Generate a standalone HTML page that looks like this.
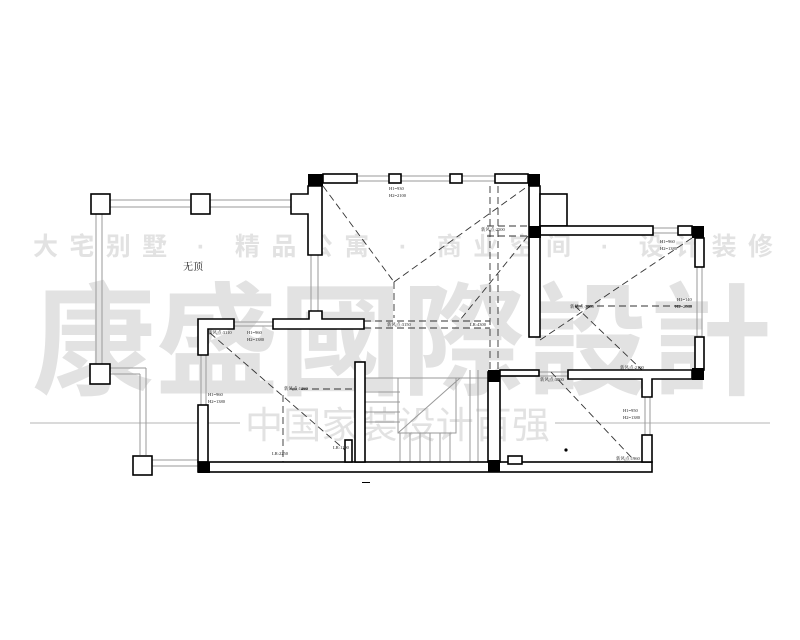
<!DOCTYPE html>
<html><head><meta charset="utf-8"><style>
html,body{margin:0;padding:0;background:#fff;}
svg{display:block}
</style></head><body>
<svg width="800" height="640" viewBox="0 0 800 640" xmlns="http://www.w3.org/2000/svg" font-family="Liberation Serif, Noto Serif CJK SC, serif">
<rect width="800" height="640" fill="#fff"/>
<g fill="#e2e2e2" font-family="Liberation Sans, Noto Sans CJK SC, sans-serif">
 <text x="33" y="255" font-size="25" font-weight="bold" textLength="740" lengthAdjust="spacing">大宅别墅 · 精品公寓 · 商业空间 · 设计装修</text>
 <text x="32" y="385" font-size="122" font-weight="bold" textLength="740" lengthAdjust="spacingAndGlyphs">康盛國際設計</text>
 <text x="245" y="438" font-size="37" textLength="305" lengthAdjust="spacingAndGlyphs">中国家装设计百强</text>
</g>
<g stroke="#dadada" stroke-width="2"><line x1="30" y1="423" x2="240" y2="423"/><line x1="555" y1="423" x2="770" y2="423"/></g>
<g stroke="#999" stroke-width="1" fill="none">
 <line x1="110" y1="200" x2="190" y2="200"/><line x1="110" y1="207" x2="190" y2="207"/>
 <line x1="210" y1="200" x2="291" y2="200"/><line x1="210" y1="207" x2="291" y2="207"/>
 <line x1="96" y1="214" x2="96" y2="364"/><line x1="102" y1="214" x2="102" y2="364"/>
 <line x1="110" y1="368" x2="146" y2="368"/><line x1="110" y1="374" x2="140" y2="374"/>
 <line x1="146" y1="368" x2="146" y2="455"/><line x1="140" y1="374" x2="140" y2="455"/>
 <line x1="152" y1="460" x2="198" y2="460"/><line x1="152" y1="466" x2="198" y2="466"/>
 <line x1="357" y1="176" x2="495" y2="176"/><line x1="357" y1="181" x2="495" y2="181"/>
 <line x1="311" y1="255" x2="311" y2="316"/><line x1="318" y1="255" x2="318" y2="316"/>
 <line x1="234" y1="322" x2="273" y2="322"/><line x1="234" y1="326" x2="273" y2="326"/>
 <line x1="201" y1="355" x2="201" y2="405"/><line x1="206" y1="355" x2="206" y2="405"/>
 <line x1="653" y1="228" x2="678" y2="228"/><line x1="653" y1="233" x2="678" y2="233"/>
 <line x1="697" y1="267" x2="697" y2="337"/><line x1="702" y1="267" x2="702" y2="337"/>
 <line x1="645" y1="397" x2="645" y2="435"/><line x1="650" y1="397" x2="650" y2="435"/>
 <line x1="539" y1="372" x2="568" y2="372"/><line x1="539" y1="376" x2="568" y2="376"/>
 <line x1="365" y1="378" x2="488" y2="378"/>
 <line x1="365" y1="392" x2="400" y2="392"/><line x1="365" y1="402" x2="400" y2="402"/><line x1="365" y1="412" x2="400" y2="412"/><line x1="365" y1="422" x2="400" y2="422"/>
 <rect x="398" y="378" width="58" height="55"/>
 <line x1="398" y1="433" x2="460" y2="378"/>
 <line x1="400" y1="433" x2="400" y2="462"/><line x1="410" y1="433" x2="410" y2="462"/><line x1="420" y1="433" x2="420" y2="462"/><line x1="430" y1="433" x2="430" y2="462"/><line x1="440" y1="433" x2="440" y2="462"/><line x1="450" y1="433" x2="450" y2="462"/>
 <line x1="470" y1="370" x2="470" y2="462"/><line x1="478" y1="370" x2="478" y2="462"/>
 <line x1="547" y1="220" x2="560" y2="198"/>
</g>
<g stroke="#333" stroke-width="0.9" fill="none" stroke-dasharray="7,4">
 <line x1="323" y1="186" x2="394" y2="282"/><line x1="394" y1="282" x2="528" y2="186"/>
 <line x1="394" y1="282" x2="394" y2="318"/>
 <line x1="490" y1="186" x2="490" y2="370"/><line x1="498" y1="186" x2="498" y2="370"/>
 <line x1="487" y1="226" x2="528" y2="226"/><line x1="487" y1="236" x2="528" y2="236"/>
 <line x1="528" y1="236" x2="460" y2="320"/>
 <line x1="364" y1="321" x2="490" y2="321"/><line x1="364" y1="328" x2="490" y2="328"/>
 <line x1="210" y1="333" x2="345" y2="450"/><line x1="283" y1="395" x2="283" y2="462"/>
 <line x1="290" y1="389" x2="355" y2="389"/>
 <line x1="692" y1="238" x2="540" y2="340"/>
 <line x1="575" y1="306" x2="692" y2="306"/>
 <line x1="575" y1="306" x2="642" y2="370"/>
 <line x1="551" y1="372" x2="632" y2="458"/>
</g>
<g stroke="#000" stroke-width="1.6" fill="#fff">
 <rect x="91" y="194" width="19" height="20"/><rect x="191" y="194" width="19" height="20"/>
 <rect x="90" y="364" width="20" height="20"/><rect x="133" y="456" width="19" height="19"/>
 <rect x="323" y="174" width="34" height="9"/><rect x="389" y="174" width="12" height="9"/>
 <rect x="450" y="174" width="12" height="9"/><rect x="495" y="174" width="33" height="9"/>
 <path d="M308 186 H322 V255 H308 V214 H291 V194 H308 Z"/>
 <path d="M273 319 H309 V311 H322 V319 H364 V329 H273 Z"/>
 <path d="M198 319 H234 V329 H208 V355 H198 Z"/>
 <rect x="198" y="405" width="10" height="57"/>
 <rect x="198" y="462" width="454" height="10"/>
 <rect x="355" y="362" width="10" height="100"/>
 <rect x="345" y="440" width="7" height="22"/>
 <rect x="488" y="372" width="12" height="90"/>
 <rect x="529" y="186" width="11" height="151"/>
 <rect x="540" y="194" width="27" height="32"/>
 <rect x="540" y="226" width="113" height="9"/>
 <rect x="678" y="226" width="14" height="9"/>
 <rect x="695" y="238" width="9" height="29"/>
 <rect x="695" y="337" width="9" height="33"/>
 <rect x="500" y="370" width="39" height="6"/>
 <path d="M568 370 H692 V379 H652 V397 H642 V379 H568 Z"/>
 <rect x="642" y="435" width="10" height="27"/>
 <rect x="508" y="456" width="14" height="8"/>
</g>
<g fill="#000">
 <rect x="308" y="174" width="15" height="12"/><rect x="528" y="174" width="12" height="12"/>
 <rect x="529" y="226" width="12" height="12"/><rect x="692" y="226" width="12" height="12"/>
 <rect x="692" y="368" width="12" height="12"/><rect x="488" y="370" width="12" height="12"/>
 <rect x="488" y="460" width="12" height="12"/><rect x="198" y="462" width="12" height="11"/>
 <circle cx="566" cy="450" r="1.6"/>
 <rect x="362" y="482" width="8" height="1"/>
</g>
<g font-size="4.5" fill="#222">
 <text x="389" y="190">H1=930</text><text x="389" y="197">H2=2100</text>
 <text x="481" y="231">新风点:2500</text>
 <text x="387" y="326">新风点:3150</text><text x="470" y="326">LR:4300</text>
 <text x="208" y="334">新风点:3110</text><text x="247" y="334">H1=960</text><text x="247" y="341">H2=1380</text>
 <text x="208" y="396">H1=960</text><text x="208" y="403">H2=1380</text>
 <text x="284" y="390">新风点:1260</text><text x="272" y="455">LR:2250</text><text x="333" y="449">LR:1100</text>
 <text x="660" y="243">H1=960</text><text x="660" y="250">H2=1380</text>
 <text x="677" y="301">H1=140</text><text x="675" y="308">H2=2040</text>
 <text x="570" y="308">新风点:3000</text>
 <text x="620" y="369">新风点:2100</text><text x="540" y="381">新风点:3000</text>
 <text x="623" y="412">H1=950</text><text x="623" y="419">H2=1380</text>
 <text x="616" y="460">新风点:1960</text>
</g>
<text x="183" y="270" font-size="10" fill="#222">无顶</text>
</svg>
</body></html>
